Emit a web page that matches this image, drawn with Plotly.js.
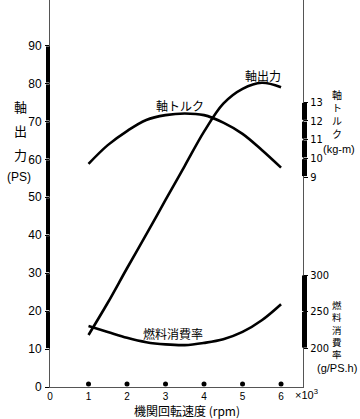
<!DOCTYPE html>
<html><head><meta charset="utf-8">
<script src="https://cdn.plot.ly/plotly-3.0.1.min.js"></script>
<style>html,body{margin:0;padding:0;background:#fff;}</style>
</head><body><div id="chart" style="width:360px;height:419px;"></div>
<script>
// Data
const rpm    = [1, 1.5, 2, 2.5, 3, 3.5, 4, 4.5, 5, 5.5, 6];          // x 10^3 rpm
const power  = [13.7, 22.2, 31.3, 40.2, 49.3, 58.3, 67.3, 74.7, 78.6, 80.2, 79.0]; // PS
const torque = [9.7, 10.7, 11.45, 12.04, 12.3, 12.39, 12.3, 11.9, 11.3, 10.44, 9.5]; // kg-m
const fuel   = [230, 222, 214, 208, 205, 204, 207, 212, 222, 238, 260]; // g/PS.h
const xTicks = [0, 1, 2, 3, 4, 5, 6];
const markerRpm = [1, 2, 3, 4, 5, 6];
const psTicks = [0, 10, 20, 30, 40, 50, 60, 70, 80, 90];
const torqueTicks = [9, 10, 11, 12, 13];
const fuelTicks = [200, 250, 300];

const W = 360, H = 419, L = 50, R = 57, T = 0, B = 32;
const pw = W - L - R, ph = H - T - B;
const px = x => (x - L) / pw;
const py = y => (H - B - y) / ph;

const jp = '"Noto Sans CJK JP", "Noto Sans", sans-serif';
const num = '"Liberation Sans", Arial, sans-serif';
const narrow = '"Liberation Sans Narrow", "Arial Narrow", "DejaVu Sans Condensed", sans-serif';

const traces = [
  {x: rpm, y: power, yaxis: 'y', mode: 'lines', line: {color: '#000', width: 2.6, shape: 'spline'}, hoverinfo: 'skip'},
  {x: rpm, y: torque, yaxis: 'y2', mode: 'lines', line: {color: '#000', width: 2.6, shape: 'spline'}, hoverinfo: 'skip'},
  {x: rpm, y: fuel, yaxis: 'y3', mode: 'lines', line: {color: '#000', width: 2.6, shape: 'spline'}, hoverinfo: 'skip'},
  {x: markerRpm, y: markerRpm.map(() => 0.8), yaxis: 'y', mode: 'markers', marker: {color: '#000', size: 5}, cliponaxis: false, hoverinfo: 'skip'}
];

const shapes = [];
function bar(ticks, yref, x0, x1, gap) {
  for (let i = 0; i < ticks.length - 1; i++) {
    shapes.push({type: 'rect', xref: 'paper', yref: yref, x0: x0, x1: x1,
      y0: ticks[i] + gap, y1: ticks[i + 1] - gap, fillcolor: '#000', line: {width: 0}});
  }
}
bar(psTicks.slice(1), 'y', px(46), px(50), 0.25);
bar(torqueTicks, 'y2', px(302), px(307), 0.05);
bar(fuelTicks, 'y3', px(302), px(307), 0.6);

const annotations = [];
function txt(t, x, y, size, font) {
  annotations.push({text: t, xref: 'paper', yref: 'paper', x: px(x), y: py(y),
    xanchor: 'center', yanchor: 'middle', showarrow: false, borderpad: 0,
    font: {family: font || jp, size: size || 12, color: '#000'}});
}
// left axis title
txt('軸', 20, 107, 13); txt('出', 20, 130, 13); txt('力', 20, 154, 13);
txt('(PS)', 19, 177, 12, num);
// torque axis title (stacked vertically)
txt('軸<br>ト<br>ル<br>ク', 337, 114, 10);
txt('(kg-m)', 339, 149, 11, num);
// fuel axis title (stacked vertically)
txt('燃<br>料<br>消<br>費<br>率', 337, 329, 9.5);
txt('(g/PS.h)', 337, 368, 11, num);
// curve labels
txt('軸トルク', 180, 105, 12);
txt('軸出力', 263, 75, 12);
txt('燃料消費率', 173, 333, 12);
// x axis extras
txt('×10<sup>3</sup>', 306, 394, 11, num);
txt('機関回転速度 (rpm)', 187, 410, 12);

const layout = {
  width: W, height: H,
  margin: {l: L, r: R, t: T, b: B, pad: 0},
  paper_bgcolor: '#fff', plot_bgcolor: '#fff',
  showlegend: false,
  xaxis: {range: [0, 6.57], tickvals: xTicks, ticktext: xTicks.map(String),
    showline: true, linecolor: '#555', linewidth: 1, showgrid: false, zeroline: false,
    ticks: '', ticklabelstandoff: 0, tickfont: {family: num, size: 10, color: '#000'}, fixedrange: true},
  yaxis: {range: [0, 102], tickvals: psTicks, ticktext: psTicks.map(String),
    showline: true, linecolor: '#555', linewidth: 1, showgrid: false, zeroline: false,
    ticks: 'outside', ticklen: 4, tickcolor: '#000', ticklabelstandoff: 1,
    tickfont: {family: num, size: 12, color: '#000'}},
  yaxis2: {overlaying: 'y', side: 'right', anchor: 'x', range: [-2.2, 18.44],
    tickvals: torqueTicks, ticktext: torqueTicks.map(String),
    showline: true, linecolor: '#555', linewidth: 1, showgrid: false, zeroline: false,
    ticks: 'outside', ticklen: 4, tickcolor: '#000', ticklabelstandoff: 0,
    tickfont: {family: narrow, size: 11, color: '#000'}},
  yaxis3: {overlaying: 'y', side: 'right', anchor: 'x', range: [146.6, 676.7],
    tickvals: fuelTicks, ticktext: fuelTicks.map(String),
    showline: false, showgrid: false, zeroline: false,
    ticks: 'outside', ticklen: 4, tickcolor: '#000', ticklabelstandoff: 0,
    tickfont: {family: narrow, size: 11, color: '#000'}},
  shapes: shapes,
  annotations: annotations
};

Plotly.newPlot('chart', traces, layout, {displayModeBar: false, staticPlot: true});
</script>
</body></html>
